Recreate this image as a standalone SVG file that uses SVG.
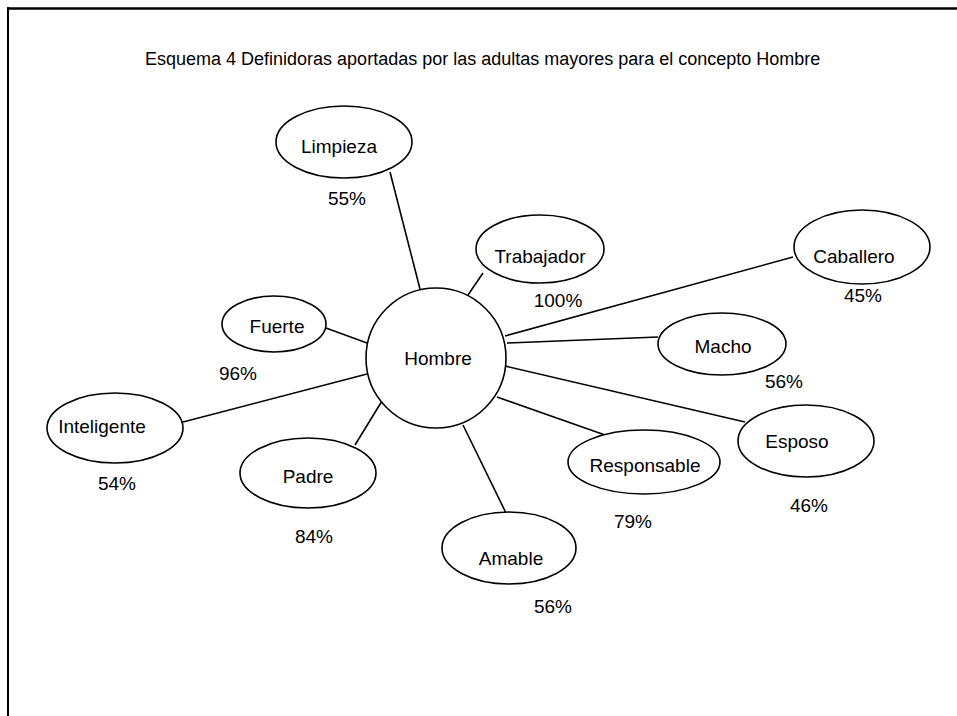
<svg xmlns="http://www.w3.org/2000/svg" width="957" height="716" viewBox="0 0 957 716">
<style>
.n{fill:#fff;stroke:#000;stroke-width:1.6}
.c line{stroke:#000;stroke-width:1.6}
text{font-family:"Liberation Sans",Arial,sans-serif;font-size:19px;fill:#000;text-anchor:middle}
.t{font-size:18px;text-anchor:start}
</style>
<rect width="957" height="716" fill="#fff"/>
<g id="frame" stroke="#000" fill="none">
<line x1="7" y1="8.5" x2="957" y2="8.5" stroke-width="2.5"/>
<line x1="8" y1="7" x2="8" y2="716" stroke-width="2"/>
</g>
<text class="t" x="145" y="65">Esquema 4 Definidoras aportadas por las adultas mayores para el concepto Hombre</text>
<g class="c" id="connectors">
<line x1="390" y1="172" x2="420" y2="289"/>
<line x1="483" y1="273" x2="468" y2="295"/>
<line x1="793" y1="257" x2="505" y2="336"/>
<line x1="658" y1="337" x2="507" y2="343"/>
<line x1="745" y1="422" x2="505" y2="366"/>
<line x1="497" y1="397" x2="605" y2="435"/>
<line x1="463" y1="425" x2="506" y2="513"/>
<line x1="382" y1="401" x2="355" y2="445"/>
<line x1="326" y1="328" x2="367" y2="343"/>
<line x1="183" y1="422" x2="367" y2="374"/>
</g>
<g id="hombre"><circle class="n" cx="436" cy="358" r="70"/><text x="438" y="365">Hombre</text></g>
<g id="limpieza"><ellipse class="n" cx="344" cy="142" rx="68" ry="36"/><text x="339" y="153">Limpieza</text><text x="347" y="205">55%</text></g>
<g id="trabajador"><ellipse class="n" cx="540" cy="249" rx="64" ry="34"/><text x="540" y="263">Trabajador</text><text x="558" y="307">100%</text></g>
<g id="caballero"><ellipse class="n" cx="862" cy="247" rx="68" ry="37"/><text x="854" y="263">Caballero</text><text x="863" y="302">45%</text></g>
<g id="macho"><ellipse class="n" cx="722" cy="344" rx="64" ry="31"/><text x="723" y="353">Macho</text><text x="784" y="388">56%</text></g>
<g id="esposo"><ellipse class="n" cx="806" cy="441" rx="68" ry="36"/><text x="797" y="448">Esposo</text><text x="809" y="512">46%</text></g>
<g id="responsable"><ellipse class="n" cx="644" cy="462" rx="76" ry="32"/><text x="645" y="472">Responsable</text><text x="633" y="528">79%</text></g>
<g id="amable"><ellipse class="n" cx="509" cy="548" rx="67" ry="36"/><text x="511" y="565">Amable</text><text x="553" y="613">56%</text></g>
<g id="padre"><ellipse class="n" cx="308" cy="473" rx="68" ry="35"/><text x="308" y="483">Padre</text><text x="314" y="543">84%</text></g>
<g id="fuerte"><ellipse class="n" cx="274" cy="324" rx="52" ry="28"/><text x="277" y="333">Fuerte</text><text x="238" y="380">96%</text></g>
<g id="inteligente"><ellipse class="n" cx="115" cy="428" rx="68" ry="35"/><text x="102" y="433">Inteligente</text><text x="117" y="490">54%</text></g>
</svg>
